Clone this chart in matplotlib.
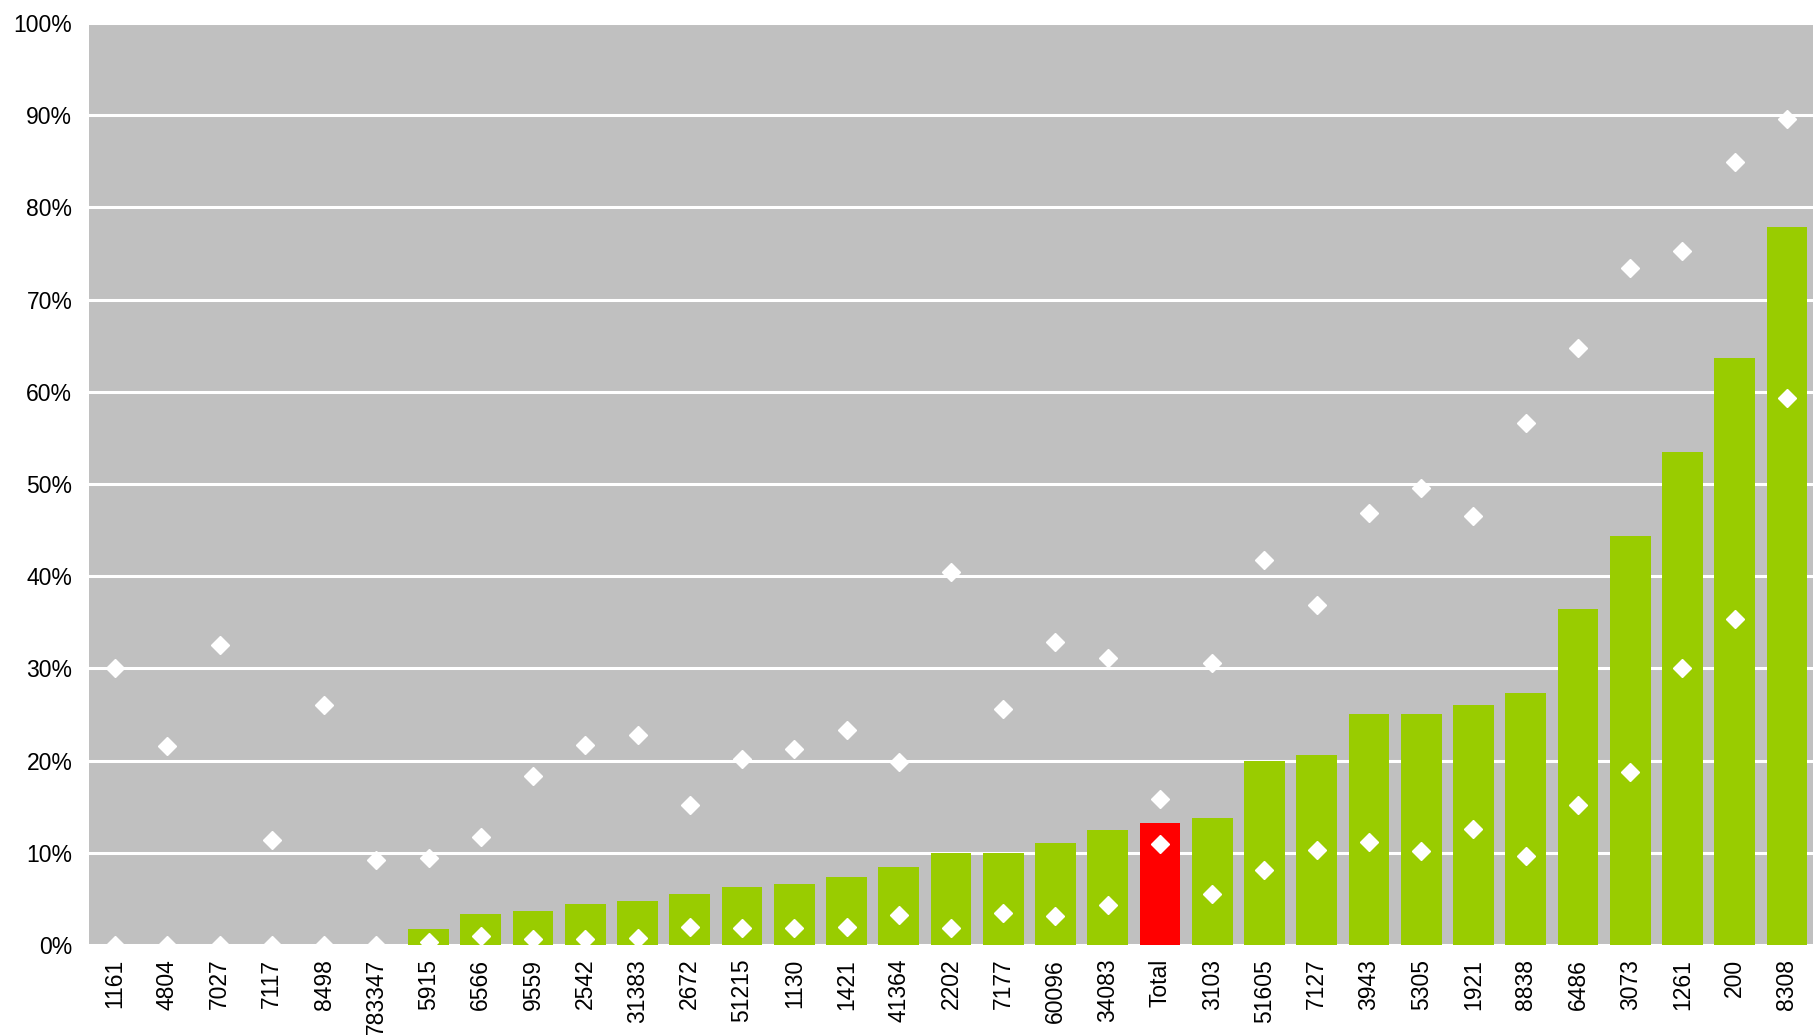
import matplotlib
matplotlib.use("Agg")
import matplotlib.pyplot as plt
import numpy as np
from matplotlib.ticker import PercentFormatter

categories = [
    "1161", "4804", "7027", "7117", "8498", "783347", "5915", "6566", "9559",
    "2542", "31383", "2672", "51215", "1130", "1421", "41364", "2202", "7177",
    "60096", "34083", "Total", "3103", "51605", "7127", "3943", "5305", "1921",
    "8838", "6486", "3073", "1261", "200", "8308",
]
bar_values = [
    0, 0, 0, 0, 0, 0, 1.75, 3.4, 3.7, 4.45, 4.8, 5.5, 6.3, 6.6, 7.4, 8.5,
    10.0, 10.0, 11.1, 12.5, 13.25, 13.8, 19.95, 20.6, 25.0, 25.0, 26.0,
    27.35, 36.4, 44.4, 53.45, 63.7, 77.9,
]
upper_values = [
    30.0, 21.6, 32.5, 11.4, 26.0, 9.2, 9.4, 11.7, 18.3, 21.7, 22.8, 15.2,
    20.2, 21.3, 23.3, 19.8, 40.5, 25.6, 32.9, 31.1, 15.8, 30.6, 41.7, 36.9,
    46.9, 49.6, 46.5, 56.6, 64.7, 73.4, 75.3, 84.9, 89.6,
]
lower_values = [
    0, 0, 0, 0, 0, 0, 0.3, 1.0, 0.6, 0.7, 0.8, 2.0, 1.8, 1.85, 2.0, 3.3,
    1.8, 3.5, 3.1, 4.3, 11.0, 5.5, 8.1, 10.35, 11.15, 10.2, 12.55, 9.7,
    15.2, 18.8, 30.0, 35.3, 59.3,
]

plt.rcParams["font.family"] = ["Liberation Sans", "DejaVu Sans"]

fig = plt.figure(figsize=(18.13, 10.35), dpi=100)
ax = fig.add_axes([0.0491, 0.087, 0.9509, 0.8908])
ax.set_facecolor("#C0C0C0")

x = np.arange(len(categories))
colors = ["#FF0000" if c == "Total" else "#99CC00" for c in categories]

ax.set_axisbelow(True)
ax.grid(axis="y", color="white", lw=2.2)
ax.bar(x, bar_values, width=0.78, color=colors, zorder=2)
ax.plot(x, upper_values, ls="none", marker="D", ms=9, color="white",
        mec="white", zorder=3)
ax.plot(x, lower_values, ls="none", marker="D", ms=9, color="white",
        mec="white", zorder=3)

ax.set_xlim(-0.5, len(categories) - 0.5)
ax.set_ylim(0, 100)
ax.set_yticks(np.arange(0, 101, 10))
ax.yaxis.set_major_formatter(PercentFormatter(decimals=0))
ax.set_xticks(x)
ax.set_xticklabels(categories, rotation=90)
ax.tick_params(axis="both", length=0, labelsize=16.5)
ax.tick_params(axis="x", pad=10)
ax.tick_params(axis="y", pad=12)
for s in ax.spines.values():
    s.set_visible(False)

fig.savefig("out.png", dpi=100)
